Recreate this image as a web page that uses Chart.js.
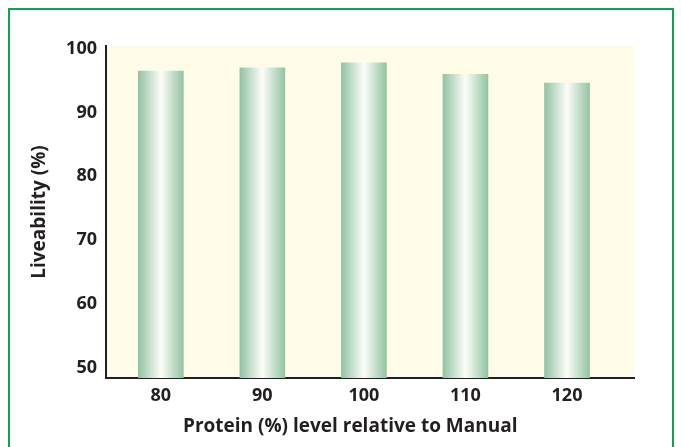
<!DOCTYPE html>
<html>
<head>
<meta charset="utf-8">
<script src="https://cdn.jsdelivr.net/npm/chart.js@4"></script>
<style>
  html, body { margin: 0; padding: 0; background: #fff; overflow: hidden; }
  #frame { position: absolute; left: 8px; top: 8px; width: 662px; height: 460px; border: 2px solid #0aa64f; }
  #wrap { position: absolute; left: 0; top: 0; width: 681px; height: 447px; }
</style>
</head>
<body>
<div id="frame"></div>
<div id="wrap"><canvas id="chartCanvas" width="681" height="447"></canvas></div>
<script>
// chart data
const proteinLevels = [80, 90, 100, 110, 120];
const liveability = [96.5, 97.0, 97.8, 96.0, 94.6];
const yTickValues = [50, 60, 70, 80, 90, 100];

const textColor = '#231f20';
const tickFont = { family: 'Open Sans', size: 18, weight: 'bold' };
const titleFont = { family: 'Open Sans', size: 19, weight: 'bold' };

const plotBackground = {
    id: 'plotBackground',
    beforeDraw(chart) {
        const { ctx, chartArea } = chart;
        ctx.save();
        ctx.fillStyle = '#fefbe9';
        ctx.fillRect(chartArea.left, chartArea.top, chartArea.right - chartArea.left, chartArea.bottom - chartArea.top);
        ctx.restore();
    },
};

function barGradient(context) {
    const chart = context.chart;
    const { ctx, chartArea, scales } = chart;
    if (!chartArea || !scales.x) return '#9cc8aa';
    const cx = scales.x.getPixelForValue(proteinLevels[context.dataIndex]);
    const half = 22.5;
    const g = ctx.createLinearGradient(cx - half, 0, cx + half, 0);
    g.addColorStop(0, '#93c3a4');
    g.addColorStop(0.5, '#fbfdf8');
    g.addColorStop(1, '#93c3a4');
    return g;
}

new Chart(document.getElementById('chartCanvas').getContext('2d'), {
    type: 'bar',
    data: {
        datasets: [
            {
                label: 'Liveability',
                data: proteinLevels.map((x, i) => ({ x: x, y: liveability[i] })),
                backgroundColor: barGradient,
                borderWidth: 0,
                barThickness: 45,
            },
        ],
    },
    options: {
        responsive: false,
        animation: false,
        layout: { padding: { left: 0, top: 46, right: 47, bottom: 0 } },
        plugins: { legend: { display: false }, tooltip: { enabled: false } },
        scales: {
            x: {
                type: 'linear',
                offset: false,
                min: 74.6,
                max: 126.6,
                afterBuildTicks: (scale) => { scale.ticks = proteinLevels.map(v => ({ value: v })); },
                afterFit: (scale) => { scale.height = 69; },
                grid: { display: false, drawTicks: false },
                border: { display: true, color: textColor, width: 2 },
                ticks: { color: textColor, font: tickFont, padding: 7, maxRotation: 0, autoSkip: false },
                title: {
                    display: true,
                    // trailing spaces shift the centred title left, as in the source figure
                    text: 'Protein (%) level relative to Manual' + '\u00a0'.repeat(8),
                    color: textColor,
                    font: titleFont,
                    padding: { top: 0, bottom: 9 },
                },
            },
            y: {
                type: 'linear',
                min: 48.35,
                max: 100.43,
                afterBuildTicks: (scale) => { scale.ticks = yTickValues.map(v => ({ value: v })); },
                afterFit: (scale) => { scale.width = 106; },
                grid: { display: false, drawTicks: false },
                border: { display: true, color: textColor, width: 2 },
                ticks: { color: textColor, font: tickFont, padding: 9 },
                title: {
                    display: true,
                    text: 'Liveability (%)',
                    color: textColor,
                    font: titleFont,
                    padding: { top: 28, bottom: 0 },
                },
            },
        },
    },
    plugins: [plotBackground],
});
</script>
</body>
</html>
